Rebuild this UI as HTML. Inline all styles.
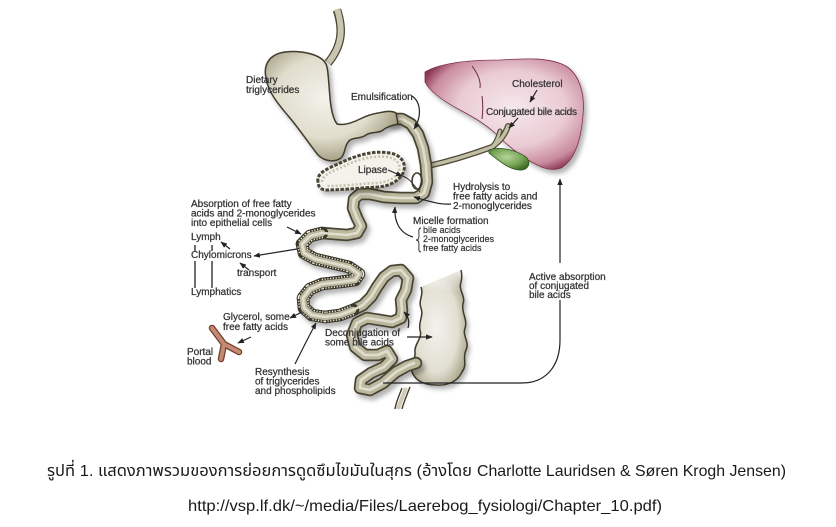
<!DOCTYPE html>
<html><head><meta charset="utf-8"><style>
html,body{margin:0;padding:0;background:#fff;}
body{width:836px;height:527px;overflow:hidden;position:relative;}
svg{position:absolute;left:0;top:0;}
.l{font-family:"Liberation Sans",Arial,sans-serif;font-size:10px;fill:#333;stroke:#333;stroke-width:0.25;}
.s{font-family:"Liberation Sans",Arial,sans-serif;font-size:9px;fill:#333;stroke:#333;stroke-width:0.2;}
.c{font-family:"Liberation Sans","Tahoma","Noto Sans Thai","Garuda","Loma","DejaVu Sans",sans-serif;font-size:16px;fill:#1a1a1a;}
</style></head><body>
<svg width="836" height="527" viewBox="0 0 836 527" xmlns="http://www.w3.org/2000/svg">
<defs>
<filter id="sh" x="-20%" y="-20%" width="140%" height="140%"><feDropShadow dx="3" dy="4" stdDeviation="2.5" flood-color="#000" flood-opacity="0.3"/></filter>
<radialGradient id="gSt" cx="45%" cy="42%" r="62%"><stop offset="0" stop-color="#f3f2ec"/><stop offset="0.6" stop-color="#e0ddcc"/><stop offset="1" stop-color="#9c977b"/></radialGradient>
<radialGradient id="gLv" cx="55%" cy="45%" r="62%"><stop offset="0" stop-color="#f6e8ec"/><stop offset="0.55" stop-color="#eacbd4"/><stop offset="0.85" stop-color="#c98b9e"/><stop offset="1" stop-color="#8a3653"/></radialGradient>
<radialGradient id="gGb" cx="45%" cy="40%" r="65%"><stop offset="0" stop-color="#b5d59a"/><stop offset="0.6" stop-color="#76a555"/><stop offset="1" stop-color="#3f6c27"/></radialGradient>
<radialGradient id="gCo" cx="45%" cy="50%" r="60%"><stop offset="0" stop-color="#f2f1ec"/><stop offset="0.65" stop-color="#e2dfd2"/><stop offset="1" stop-color="#a7a287"/></radialGradient>
<linearGradient id="gCoTop" x1="0" y1="0" x2="0" y2="1"><stop offset="0" stop-color="#fff"/><stop offset="1" stop-color="#fff" stop-opacity="0"/></linearGradient>
<marker id="ah" viewBox="0 0 10 10" refX="9" refY="5" markerWidth="5.5" markerHeight="5.5" orient="auto"><path d="M0,1 L10,5 L0,9 z" fill="#222"/></marker>
</defs>

<!-- Liver -->
<g filter="url(#sh)">
<path d="M425,72 C440,63 470,60 500,60 C520,59 547,56 566,66 C580,75 585,95 583,115 C581,140 575,160 561,168 C550,172 540,167 528,160 C515,152 505,143 495,133 C485,124 475,118 460,110 C445,102 430,92 425,82 Z" fill="url(#gLv)" stroke="#7e2f4a" stroke-width="0.8"/>
</g>
<path d="M472,66 C478,74 481,82 480,88 M482,96 C483,104 483,112 482,119" fill="none" stroke="#6a2b40" stroke-width="1"/>

<!-- bile ducts -->
<g fill="none" stroke-linecap="round">
<path d="M508,126 C505,135 500,141 492,147 C470,155 446,162 428,166" stroke="#4f4a38" stroke-width="6"/>
<path d="M500,131 C498,138 496,143 492,147" stroke="#4f4a38" stroke-width="5"/>
<path d="M508,126 C505,135 500,141 492,147 C470,155 446,162 428,166" stroke="#c3bfa5" stroke-width="3.5"/>
<path d="M500,131 C498,138 496,143 492,147" stroke="#c3bfa5" stroke-width="2.5"/>
</g>
<!-- gallbladder -->
<path d="M489,150 C500,146 516,150 526,157 C532,163 528,171 519,170 C508,169 498,160 489,153 Z" fill="url(#gGb)" stroke="#2f5220" stroke-width="0.8"/>

<!-- colon -->
<g filter="url(#sh)">
<path d="M421,287 C424,296 418,300 421,308 C424,316 418,322 420,330 C423,338 414,344 415,352 C416,360 409,364 412,372 C416,382 426,385 436,385 C448,386 458,381 462,372 C468,364 462,358 466,350 C470,342 462,336 465,328 C468,320 461,312 463,304 C466,296 458,290 461,282 C462,278 462,274 461,270 Z" fill="url(#gCo)"/>
</g>
<path d="M416,266 L468,266 L468,292 L416,292 Z" fill="url(#gCoTop)"/>
<path d="M421,287 C424,296 418,300 421,308 C424,316 418,322 420,330 C423,338 414,344 415,352 C416,360 409,364 412,372 C416,382 426,385 436,385 C448,386 458,381 462,372 C468,364 462,358 466,350 C470,342 462,336 465,328 C468,320 461,312 463,304 C466,296 458,290 461,282 C462,278 462,274 461,270" fill="none" stroke="#3f3b2c" stroke-width="1.5"/>
<path d="M402,388 C399,396 396,402 395,409 M410,387 C407,395 404,401 402,409" fill="none" stroke="#3f3b2c" stroke-width="1.4"/>
<path d="M406,388 C403,396 400,402 398,409" fill="none" stroke="#cfcbb6" stroke-width="4"/>

<!-- small intestine -->
<g filter="url(#sh)" fill="none" stroke-linejoin="round" stroke-linecap="round">
<polyline stroke="#4a4534" stroke-width="12.5" points="390,119 402,119 411,124 418,134 423,148 426,165 427,182 424,193 416,198 400,198 384,197 370,194 360,194 354,199 353,208 357,218 361,226 357,233 347,235 334,234 322,233 310,236 302,244 304,253 315,259 332,263 349,267 359,274 355,280 340,282 322,284 310,289 303,298 304,308 312,315 325,317 340,315 353,310 363,305 371,297 377,287 384,277 392,271 401,270 408,278 406,290 401,300 402,310 401,318 392,322 380,320 367,318 357,323 352,335 355,347 365,355 378,355 387,351 392,359 384,367 371,373 361,380 360,388 370,390 383,383 396,372 407,366 416,363"/>
</g>
<g fill="none" stroke-linejoin="round" stroke-linecap="round">
<polyline stroke="#bcb89e" stroke-width="9" points="390,119 402,119 411,124 418,134 423,148 426,165 427,182 424,193 416,198 400,198 384,197 370,194 360,194 354,199 353,208 357,218 361,226 357,233 347,235 334,234 322,233 310,236 302,244 304,253 315,259 332,263 349,267 359,274 355,280 340,282 322,284 310,289 303,298 304,308 312,315 325,317 340,315 353,310 363,305 371,297 377,287 384,277 392,271 401,270 408,278 406,290 401,300 402,310 401,318 392,322 380,320 367,318 357,323 352,335 355,347 365,355 378,355 387,351 392,359 384,367 371,373 361,380 360,388 370,390 383,383 396,372 407,366 416,363"/>
<!-- villus segment -->
<polyline stroke="#3b382a" stroke-width="12.5" points="322,233 310,236 302,244 304,253 315,259 332,263 349,267 359,274 355,280 340,282 322,284 310,289 303,298 304,308 312,315 325,317 340,315 353,310"/>
<polyline stroke="#f3f1e6" stroke-width="10.5" stroke-linecap="butt" stroke-dasharray="1.2 1.6" points="322,233 310,236 302,244 304,253 315,259 332,263 349,267 359,274 355,280 340,282 322,284 310,289 303,298 304,308 312,315 325,317 340,315 353,310"/>
<polyline stroke="#3b382a" stroke-width="7.6" points="322,233 310,236 302,244 304,253 315,259 332,263 349,267 359,274 355,280 340,282 322,284 310,289 303,298 304,308 312,315 325,317 340,315 353,310"/>
<polyline stroke="#bcb89e" stroke-width="6.6" points="322,233 310,236 302,244 304,253 315,259 332,263 349,267 359,274 355,280 340,282 322,284 310,289 303,298 304,308 312,315 325,317 340,315 353,310"/>
<polyline stroke="#e1ded0" stroke-width="2.6" points="390,119 402,119 411,124 418,134 423,148 426,165 427,182 424,193 416,198 400,198 384,197 370,194 360,194 354,199 353,208 357,218 361,226 357,233 347,235 334,234 322,233 310,236 302,244 304,253 315,259 332,263 349,267 359,274 355,280 340,282 322,284 310,289 303,298 304,308 312,315 325,317 340,315 353,310 363,305 371,297 377,287 384,277 392,271 401,270 408,278 406,290 401,300 402,310 401,318 392,322 380,320 367,318 357,323 352,335 355,347 365,355 378,355 387,351 392,359 384,367 371,373 361,380 360,388 370,390 383,383 396,372 407,366 414,363"/>
</g>
<!-- loop near ampulla -->
<ellipse cx="417" cy="181" rx="5" ry="8" fill="none" stroke="#3f3b2c" stroke-width="1.6"/>
<path d="M402,176 C410,178 414,186 420,192" fill="none" stroke="#3f3b2c" stroke-width="1"/>

<!-- esophagus -->
<path d="M337,10 C343,28 343,45 328,63" fill="none" stroke="#4a4534" stroke-width="8.5" stroke-linecap="butt"/>
<path d="M337,9 C343,28 343,45 328,63" fill="none" stroke="#c9c6b0" stroke-width="6" stroke-linecap="butt"/>

<!-- stomach -->
<g filter="url(#sh)">
<path d="M326,64 C321,54 300,50 285,52 C270,54 263,64 266,78 C268,92 278,104 290,118 C300,130 310,145 318,155 C324,161 334,163 341,158 C346,153 344,145 350,140 C355,137 361,139 366,135 C372,131 378,134 383,130 C388,126 394,125 398,124 L396,113 C390,110 384,112 378,113 C372,114 366,116 360,119 C354,122 345,126 337,124 C331,116 330,100 329,85 C328,75 328,68 326,64 Z" fill="url(#gSt)" stroke="#3f3b2c" stroke-width="1.5"/>
</g>

<!-- pancreas -->
<g filter="url(#sh)">
<path d="M318,182 C316,172 330,168 340,163 C355,156 372,150 390,153 C402,155 408,165 402,175 C396,183 388,186 378,187 C360,188 340,190 325,190 C320,189 318,186 318,182 Z" fill="#f4f2ea" stroke="#4a4534" stroke-width="3" stroke-dasharray="3.5 1.5"/>
</g>
<path d="M322,182 C322,175 333,171 342,167 C356,160 372,155 388,157 C398,159 402,166 398,173 C393,180 386,182 377,183 C360,184 342,186 327,186" fill="none" stroke="#b9b5a0" stroke-width="2.5" stroke-dasharray="2 2" opacity="0.8"/>

<!-- portal vein -->
<g fill="none" stroke-linecap="round" stroke-linejoin="round">
<path d="M212,328 L224,344 L221,359 M224,344 L239,352" stroke="#6e3f2e" stroke-width="6.5"/>
<path d="M212,328 L224,344 L221,359 M224,344 L239,352" stroke="#c48a72" stroke-width="4"/>
</g>

<!-- arrows & lines -->
<g fill="none" stroke="#222" stroke-width="1.2">
<path d="M412,96 C421,102 422,117 414,129" marker-end="url(#ah)"/>
<path d="M388,170 L402,176" marker-end="url(#ah)"/>
<path d="M537,90 L530,102" marker-end="url(#ah)"/>
<path d="M518,118 L509,128" marker-end="url(#ah)"/>
<path d="M451,204 C440,205 428,201 414,197" marker-end="url(#ah)"/>
<path d="M413,237 C399,233 394,221 395,207" marker-end="url(#ah)"/>
<path d="M287,227 L301,234" marker-end="url(#ah)"/>
<path d="M297,249 L254,256" marker-end="url(#ah)"/>
<path d="M230,249 L221,242" marker-end="url(#ah)"/>
<path d="M249,270 L240,263" marker-end="url(#ah)"/>
<path d="M302,312 L290,318" marker-end="url(#ah)"/>
<path d="M251,337 L238,343" marker-end="url(#ah)"/>
<path d="M295,364 C302,350 309,336 316,323" marker-end="url(#ah)"/>
<path d="M408,328 C410,321 408,316 404,312" marker-end="url(#ah)"/>
<path d="M407,337 L432,337" marker-end="url(#ah)"/>
<path d="M383,383 L522,383 C546,383 560,366 560,340 L560,300"/>
<path d="M560,263 L560,179" marker-end="url(#ah)"/>
<path d="M195,245 L195,251 M212,245 L212,251 M195,261 L195,288 M212,261 L212,288" stroke-width="1.3"/>
<path d="M421,228 C418,228 419,232 419,236 C419,239 418,240 416,240 C418,240 419,241 419,244 C419,248 418,252 421,252" stroke-width="0.9"/>
</g>

<!-- labels -->
<text class="l" x="246" y="83">Dietary</text>
<text class="l" x="246" y="93">triglycerides</text>
<text class="l" x="351" y="100">Emulsification</text>
<text class="l" x="358" y="173">Lipase</text>
<text class="l" x="512" y="87">Cholesterol</text>
<text class="l" x="486" y="115" textLength="91">Conjugated bile acids</text>
<text class="l" x="453" y="190">Hydrolysis to</text>
<text class="l" x="453" y="199.5">free fatty acids and</text>
<text class="l" x="453" y="209">2-monoglycerides</text>
<text class="l" x="413" y="224">Micelle formation</text>
<text class="s" x="423" y="233">bile acids</text>
<text class="s" x="423" y="242">2-monoglycerides</text>
<text class="s" x="423" y="251">free fatty acids</text>
<text class="l" x="191" y="207">Absorption of free fatty</text>
<text class="l" x="191" y="216.5">acids and 2-monoglycerides</text>
<text class="l" x="191" y="226">into epithelial cells</text>
<text class="l" x="191" y="240">Lymph</text>
<text class="l" x="191" y="258">Chylomicrons</text>
<text class="l" x="237" y="276">transport</text>
<text class="l" x="191" y="295">Lymphatics</text>
<text class="l" x="223" y="320">Glycerol, some</text>
<text class="l" x="223" y="330">free fatty acids</text>
<text class="l" x="187" y="355">Portal</text>
<text class="l" x="187" y="364.5">blood</text>
<text class="l" x="325" y="336">Deconjugation of</text>
<text class="l" x="325" y="345.5">some bile acids</text>
<text class="l" x="255" y="375">Resynthesis</text>
<text class="l" x="255" y="384.5">of triglycerides</text>
<text class="l" x="255" y="394">and phospholipids</text>
<text class="l" x="529" y="280">Active absorption</text>
<text class="l" x="529" y="289">of conjugated</text>
<text class="l" x="529" y="298">bile acids</text>

<!-- caption -->
<text class="c" x="47" y="476" textLength="425" lengthAdjust="spacingAndGlyphs">รูปที่ 1. แสดงภาพรวมของการย่อยการดูดซึมไขมันในสุกร (อ้างโดย</text>
<text class="c" x="477" y="476" textLength="309" lengthAdjust="spacingAndGlyphs">Charlotte Lauridsen &amp; Søren Krogh Jensen)</text>
<text class="c" x="188" y="511" textLength="474" lengthAdjust="spacingAndGlyphs">http://vsp.lf.dk/~/media/Files/Laerebog_fysiologi/Chapter_10.pdf)</text>
</svg>
</body></html>
